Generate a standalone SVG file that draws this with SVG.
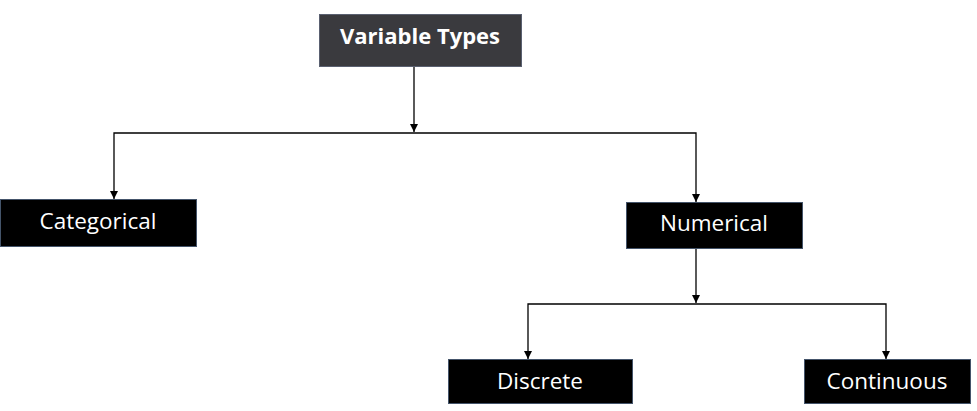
<svg xmlns="http://www.w3.org/2000/svg" width="977" height="411" viewBox="0 0 977 411">
<defs>
<marker id="arr" markerWidth="8" markerHeight="8" refX="8" refY="4" orient="auto" markerUnits="userSpaceOnUse" viewBox="0 0 8 8">
<path d="M0,0 L8,4 L0,8 Z" fill="#000"/>
</marker>
<style>
.box{fill:#000;stroke:#44546a;stroke-width:1}
.top{fill:#3a3a3e;stroke:#5a6070;stroke-width:1}
.lbl{font-family:"Open Sans","Liberation Sans",sans-serif;font-size:22.5px;fill:#fff;text-anchor:middle}
.bold{font-weight:bold;font-size:22px}
.ln{fill:none;stroke:#000;stroke-width:1.3}
</style>
</defs>
<rect width="977" height="411" fill="#fff"/>
<g id="connectors">
<line class="ln" x1="414" y1="67" x2="414" y2="132" marker-end="url(#arr)"/>
<polyline class="ln" points="414,133 114,133 114,199" marker-end="url(#arr)"/>
<polyline class="ln" points="414,133 696,133 696,202" marker-end="url(#arr)"/>
<line class="ln" x1="696" y1="249" x2="696" y2="303" marker-end="url(#arr)"/>
<polyline class="ln" points="696,304 528,304 528,359" marker-end="url(#arr)"/>
<polyline class="ln" points="696,304 886,304 886,359" marker-end="url(#arr)"/>
</g>
<g id="variable-types">
<rect class="top" x="319.5" y="14.5" width="202" height="52"/>
<text class="lbl bold" x="420" y="44">Variable Types</text>
</g>
<g id="categorical">
<rect class="box" x="0.5" y="199.5" width="196" height="47"/>
<text class="lbl" x="98" y="229">Categorical</text>
</g>
<g id="numerical">
<rect class="box" x="626.5" y="202.5" width="176" height="46"/>
<text class="lbl" x="714" y="231">Numerical</text>
</g>
<g id="discrete">
<rect class="box" x="448.5" y="359.5" width="184" height="44"/>
<text class="lbl" x="540" y="389">Discrete</text>
</g>
<g id="continuous">
<rect class="box" x="804.5" y="359.5" width="166" height="44"/>
<text class="lbl" x="887" y="389">Continuous</text>
</g>
</svg>
